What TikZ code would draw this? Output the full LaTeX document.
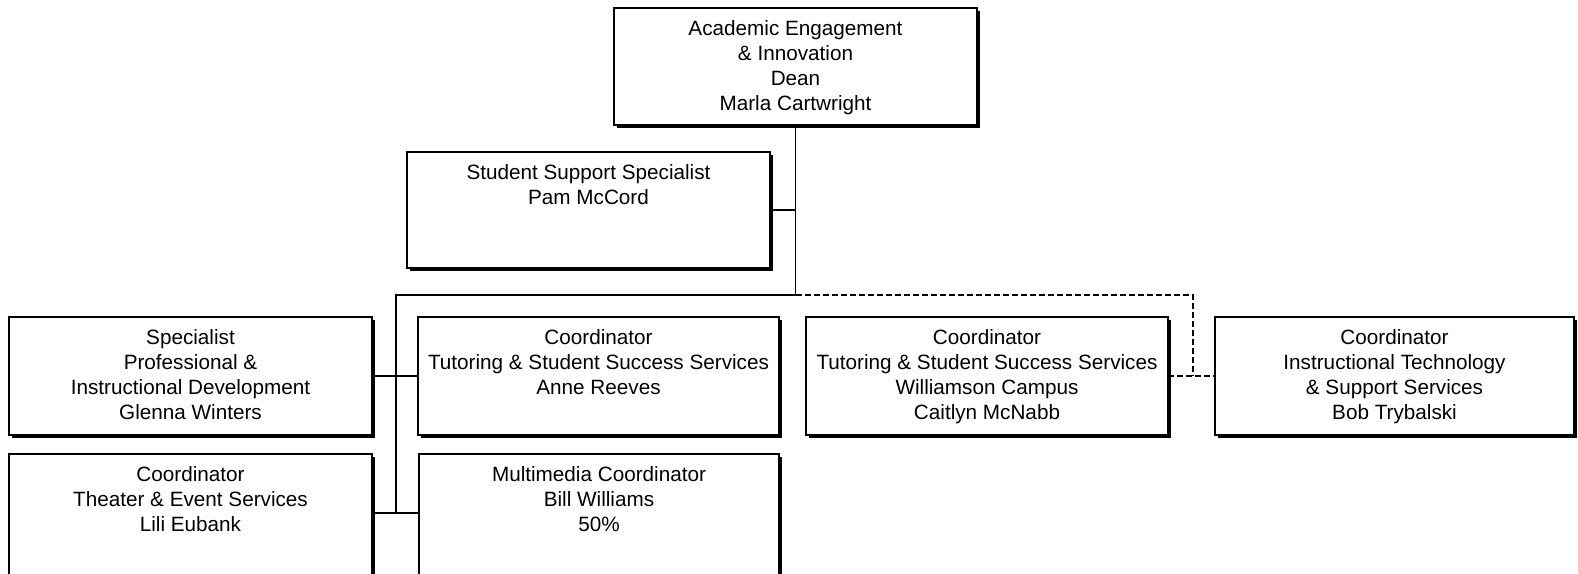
\documentclass[tikz,border=0pt]{standalone}
\usepackage{fontspec}
\setmainfont{Liberation Sans}
\usetikzlibrary{shadows,backgrounds}
\begin{document}
\begin{tikzpicture}[x=1pt,y=-1pt,
  box/.style={draw=black, line width=1.3pt, fill=white, inner sep=0pt, outer sep=0pt,
    drop shadow={shadow xshift=3pt,shadow yshift=-3pt,opacity=1,fill=black}},
  txt/.style={anchor=north, inner sep=0pt, align=center, font=\fontsize{20.7}{25}\selectfont},
  conn/.style={line width=1.3pt},
  dconn/.style={line width=1.3pt, dash pattern=on 6pt off 3pt}]
\useasboundingbox (0,0) rectangle (1578,573);
\clip (0,0) rectangle (1578,573);
% boxes
\node[box, minimum width=363pt, minimum height=117pt] (dean) at (795.5,66.5) {};
\node[box, minimum width=363pt, minimum height=116pt] (ss) at (588.5,210) {};
\node[box, minimum width=363pt, minimum height=118pt] (spec) at (190.5,376) {};
\node[box, minimum width=361pt, minimum height=118pt] (anne) at (598.5,376) {};
\node[box, minimum width=362pt, minimum height=118pt] (will) at (987,376) {};
\node[box, minimum width=359pt, minimum height=118pt] (bob) at (1394.5,376) {};
\node[box, minimum width=363pt, minimum height=140pt] (lili) at (190.5,524) {};
\node[box, minimum width=360pt, minimum height=140pt] (multi) at (599,524) {};
% texts
\node[txt] (dean-t) at ([yshift=-12pt]dean.north) {Academic Engagement\\\& Innovation\\Dean\\Marla Cartwright};
\node[txt] (ss-t) at ([yshift=-12pt]ss.north) {Student Support Specialist\\Pam McCord};
\node[txt] (spec-t) at ([yshift=-12pt]spec.north) {Specialist\\Professional \&\\Instructional Development\\Glenna Winters};
\node[txt] (anne-t) at ([yshift=-12pt]anne.north) {Coordinator\\Tutoring \& Student Success Services\\Anne Reeves};
\node[txt] (will-t) at ([yshift=-12pt]will.north) {Coordinator\\Tutoring \& Student Success Services\\Williamson Campus\\Caitlyn McNabb};
\node[txt] (bob-t) at ([yshift=-12pt]bob.north) {Coordinator\\Instructional Technology\\\& Support Services\\Bob Trybalski};
\node[txt] (lili-t) at ([yshift=-12pt]lili.north) {Coordinator\\Theater \& Event Services\\Lili Eubank};
\node[txt] (multi-t) at ([yshift=-12pt]multi.north) {Multimedia Coordinator\\Bill Williams\\50\%};
% connectors
\coordinate (bus) at (795.5,295);
\coordinate (lv) at (396,295);
\coordinate (dr) at (1193,295);
\coordinate (lrow) at (396,513);
\begin{pgfonlayer}{background}
\draw[conn] (dean.south) -- (bus);
\draw[conn] (ss.east) -- (ss.east -| bus);
\draw[conn] (bus) -- (lv) -- (lrow);
\draw[conn] (spec.east) -- (anne.west);
\draw[conn] (lili.east |- lrow) -- (multi.west |- lrow);
\draw[dconn] (bus) -- (dr) -- (dr |- will.east);
\draw[dconn] (will.east) -- (bob.west);
\end{pgfonlayer}
\end{tikzpicture}
\end{document}
